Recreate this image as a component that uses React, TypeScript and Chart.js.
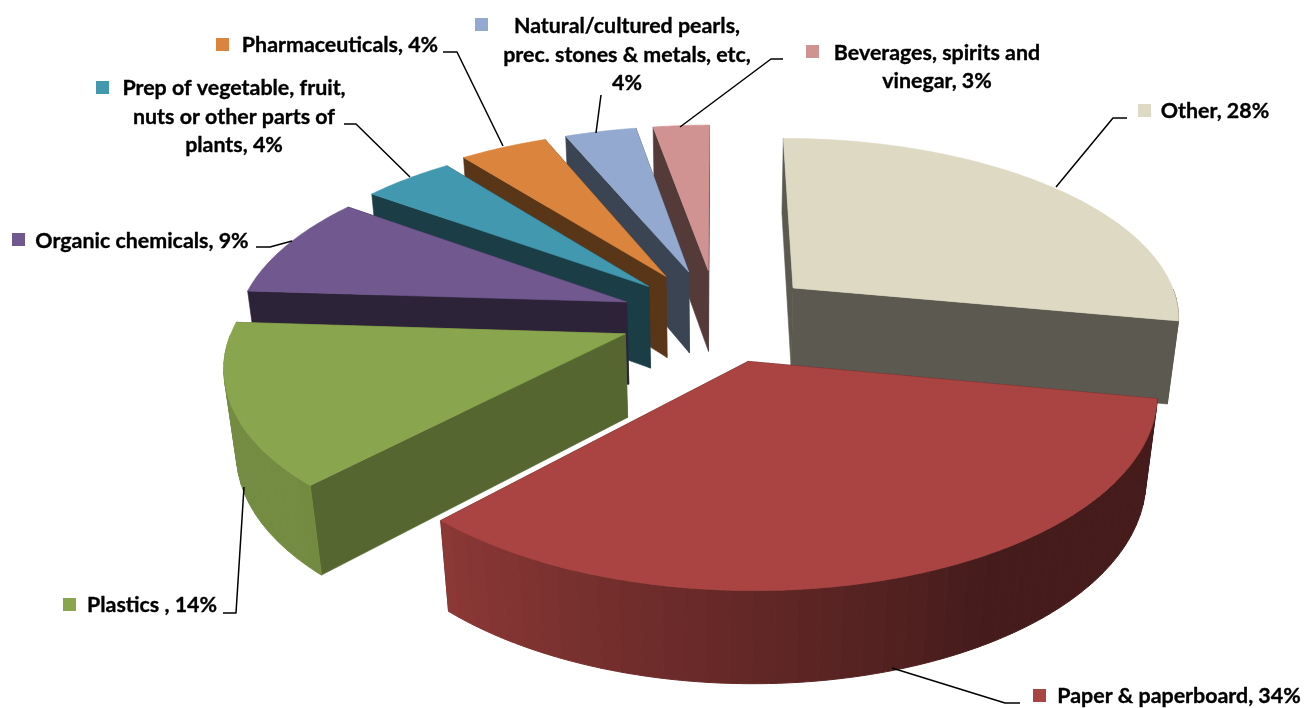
import React, { useEffect, useRef } from "react";
import { Chart, registerables } from "chart.js";

Chart.register(...registerables);

const categories = [
  "Other",
  "Paper & paperboard",
  "Plastics ",
  "Organic chemicals",
  "Prep of vegetable, fruit, nuts or other parts of plants",
  "Pharmaceuticals",
  "Natural/cultured pearls, prec. stones & metals, etc",
  "Beverages, spirits and vinegar",
];
const shareValues = [28, 34, 14, 9, 4.45, 4.3, 3.5, 2.75];
const explodePercent = [26, 25, 25, 25, 25, 27, 27, 27];
const sliceColors = ["#DDD9C3", "#A94442", "#89A54E", "#71588F", "#4198AF", "#DB843D", "#93A9CF", "#D19392"];
const cutShade = [0.41, 0.41, 0.62, 0.4, 0.4, 0.41, 0.4, 0.4];
const labelLines = [
  ["Other, 28%"],
  ["Paper & paperboard, 34%"],
  ["Plastics , 14%"],
  ["Organic chemicals, 9%"],
  ["Prep of vegetable, fruit,", "nuts or other parts of", "plants, 4%"],
  ["Pharmaceuticals, 4%"],
  ["Natural/cultured pearls,", "prec. stones & metals, etc,", "4%"],
  ["Beverages, spirits and", "vinegar, 3%"],
];

// Label placement on the page
const labelLayout = [
  { key: [1138, 104], cx: 1215, base: [118], leader: [[1127, 118], [1113, 118], [1056, 187]] },
  { key: [1033, 689], cx: 1179, base: [703], leader: [[1020, 703], [1005, 703], [892, 668]] },
  { key: [63, 598], cx: 152, base: [612], leader: [[223, 613], [236, 613], [244, 487]] },
  { key: [12, 233], cx: 142, base: [248], leader: [[256, 247], [270, 247], [292, 241]] },
  { key: [96, 81], cx: 234, base: [95, 124, 152], leader: [[344, 124], [356, 124], [410, 177]] },
  { key: [216, 38], cx: 340, base: [52], leader: [[443, 52], [457, 52], [503, 146]] },
  { key: [475, 18], cx: 627, base: [33, 62, 90], leader: [[601, 95], [596, 133]] },
  { key: [806, 45], cx: 937, base: [60, 88], leader: [[783, 59], [771, 59], [680, 127]] },
];

// Perspective camera used to lay the pie on its side
const CAM = { xc: 717, yc: 317, a: 389, b: 180, p: 0.15, q: 0.025, d: 85 };

function project(u: number, v: number, z: number): [number, number] {
  const w = 1 - CAM.p * v + CAM.q * z;
  return [CAM.xc + (CAM.a * u) / w, CAM.yc + (CAM.b * v + CAM.d * z) / w];
}

function shadeColor(hex: string, f: number) {
  const n = parseInt(hex.slice(1), 16);
  const r = Math.round(((n >> 16) & 255) * f);
  const g = Math.round(((n >> 8) & 255) * f);
  const b = Math.round((n & 255) * f);
  return `rgb(${r},${g},${b})`;
}

function wallShade(angle: number) {
  let phi = ((angle * 180) / Math.PI + 90) % 360;
  if (phi < 0) phi += 360;
  if (phi >= 225) return 0.85;
  if (phi <= 150) return 0.41;
  return 0.41 + ((phi - 150) / 75) * 0.43;
}

function poly(ctx: CanvasRenderingContext2D, pts: [number, number][], fill: string, lw = 0.6) {
  ctx.beginPath();
  pts.forEach((p, i) => (i ? ctx.lineTo(p[0], p[1]) : ctx.moveTo(p[0], p[1])));
  ctx.closePath();
  ctx.fillStyle = fill;
  ctx.strokeStyle = fill;
  ctx.lineWidth = lw;
  ctx.lineJoin = "round";
  ctx.fill();
  ctx.stroke();
}

const pie3d = {
  id: "pie3d",
  beforeDatasetDraw(chart: any, args: any) {
    const ctx: CanvasRenderingContext2D = chart.ctx;
    const arcs = chart.getDatasetMeta(args.index).data;
    const slices = arcs.map((arc: any, i: number) => {
      const { startAngle, endAngle } = arc.getProps(["startAngle", "endAngle"], true);
      const e = (arc.options.offset || 0) / 100;
      const mid = (startAngle + endAngle) / 2;
      const ou = e * Math.cos(mid);
      const ov = e * Math.sin(mid);
      return { i, startAngle, endAngle, ou, ov, order: ov + 0.5 * Math.sin(mid), color: arc.options.backgroundColor };
    });
    slices.sort((s: any, t: any) => s.order - t.order);
    for (const s of slices) {
      const steps = Math.max(6, Math.ceil((s.endAngle - s.startAngle) / 0.012));
      const wallEvery = 4;
      const at = (k: number) => s.startAngle + ((s.endAngle - s.startAngle) * k) / steps;
      const rim = (k: number) => [s.ou + Math.cos(at(k)), s.ov + Math.sin(at(k))];
      const faces: { depth: number; pts: [number, number][]; fill: string; lw: number }[] = [];
      const cut = shadeColor(s.color, cutShade[s.i]);
      for (const k of [0, steps]) {
        const [ru, rv] = rim(k);
        faces.push({
          depth: (rv + s.ov) / 2,
          pts: [project(s.ou, s.ov, 0), project(ru, rv, 0), project(ru, rv, 1), project(s.ou, s.ov, 1)],
          fill: cut,
          lw: 0.6,
        });
      }
      for (let k = 0; k < steps; k += wallEvery) {
        const last = Math.min(steps, k + wallEvery);
        // the far side of the rim faces away from the camera
        if (Math.sin(at((k + last) / 2)) < 0.02) continue;
        const pts: [number, number][] = [];
        for (let j = k; j <= last; j++) pts.push(project(rim(j)[0], rim(j)[1], 0));
        for (let j = last; j >= k; j--) pts.push(project(rim(j)[0], rim(j)[1], 1));
        const mv = (rim(k)[1] + rim(last)[1]) / 2;
        faces.push({ depth: mv, pts, fill: shadeColor(s.color, wallShade(at((k + last) / 2))), lw: 1 });
      }
      faces.sort((a, b) => a.depth - b.depth);
      faces.forEach((f) => poly(ctx, f.pts, f.fill, f.lw));
      const top: [number, number][] = [project(s.ou, s.ov, 0)];
      for (let k = 0; k <= steps; k++) {
        const [u, v] = rim(k);
        top.push(project(u, v, 0));
      }
      poly(ctx, top, s.color);
    }
    return false;
  },
  afterDraw(chart: any) {
    const ctx: CanvasRenderingContext2D = chart.ctx;
    ctx.save();
    ctx.font = "bold 21.4px Lato";
    ctx.textAlign = "center";
    ctx.textBaseline = "alphabetic";
    labelLayout.forEach((l, i) => {
      ctx.fillStyle = sliceColors[i];
      ctx.fillRect(l.key[0], l.key[1], 13, 13);
      ctx.fillStyle = "#000";
      ctx.strokeStyle = "#000";
      ctx.lineWidth = 0.35;
      labelLines[i].forEach((line, j) => {
        ctx.fillText(line, l.cx, l.base[j]);
        ctx.strokeText(line, l.cx, l.base[j]);
      });
      ctx.beginPath();
      l.leader.forEach((p, j) => (j ? ctx.lineTo(p[0], p[1]) : ctx.moveTo(p[0], p[1])));
      ctx.lineWidth = 1.5;
      ctx.stroke();
    });
    ctx.restore();
  },
};

export default function App() {
  const ref = useRef<HTMLCanvasElement | null>(null);
  useEffect(() => {
    if (!ref.current) return;
    const chart = new Chart(ref.current, {
      type: "pie",
      data: {
        labels: categories,
        datasets: [
          {
            data: shareValues,
            backgroundColor: sliceColors,
            offset: explodePercent,
            borderWidth: 0,
          },
        ],
      },
      options: {
        animation: false,
        responsive: false,
        plugins: { legend: { display: false }, tooltip: { enabled: false } },
      },
      plugins: [pie3d],
    } as any);
    return () => chart.destroy();
  }, []);
  return (
    <div style={{ position: "absolute", left: 0, top: 0, width: 1306, height: 708, background: "#fff" }}>
      <canvas ref={ref} width={1306} height={708} style={{ display: "block" }} />
    </div>
  );
}
